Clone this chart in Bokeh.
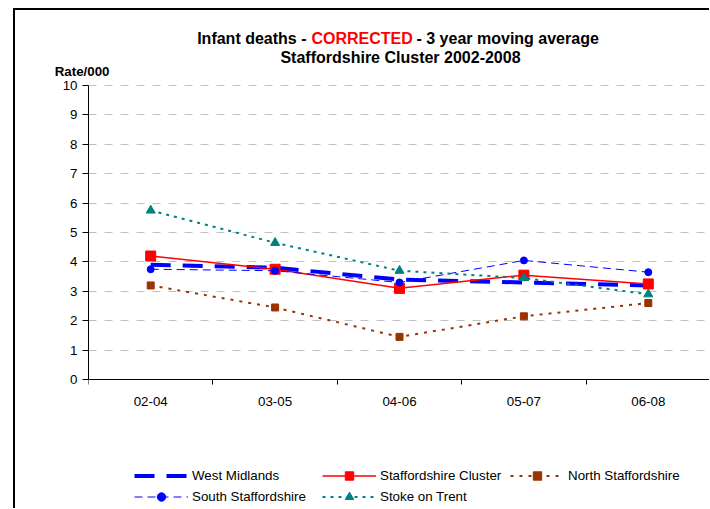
from bokeh.plotting import figure
from bokeh.models import (Range1d, FixedTicker, Label, Legend, LegendItem,
                          LinearAxis, CustomJSTickFormatter)
from bokeh.embed import file_html
from bokeh.resources import INLINE

# ---- data ----
categories = ["02-04", "03-05", "04-06", "05-07", "06-08"]
west_midlands = [3.9, 3.8, 3.4, 3.3, 3.2]
staffs_cluster = [4.2, 3.75, 3.1, 3.55, 3.25]
north_staffs = [3.2, 2.45, 1.45, 2.15, 2.6]
south_staffs = [3.75, 3.7, 3.3, 4.05, 3.65]
stoke_on_trent = [5.75, 4.65, 3.7, 3.45, 2.9]
y_ticks = list(range(0, 11))
series_names = ["West Midlands", "Staffordshire Cluster", "North Staffordshire",
                "South Staffordshire", "Stoke on Trent"]
y_title = "Rate/000"
title_parts = ["Infant deaths -", "CORRECTED", "-  3 year moving average"]
subtitle = "Staffordshire Cluster 2002-2008"

FONT = "Liberation Sans"
FS = "13.33px"
TFS = "16px"
xs = list(range(len(categories)))

# ---- layout constants (pixels, page coordinates) ----
CAN_X, CAN_Y = 15, 10          # canvas origin on the page
W = 694
FRAME_L = 88                   # page x of the value axis
FRAME_TOP = CAN_Y
FRAME_BOTTOM = 508             # frame reaches the bottom of the window
AXIS_Y0 = 379                  # page y of value 0
PX_PER_UNIT = 29.4             # pixels per 1.0 on value axis
CAT_W = 124.4                  # pixels per category
B_LEFT = FRAME_L - CAN_X
FRAME_W = W - B_LEFT
FRAME_H = FRAME_BOTTOM - FRAME_TOP

p = figure(frame_width=FRAME_W, frame_height=FRAME_H,
           min_border_left=B_LEFT, min_border_right=0, min_border_top=0,
           min_border_bottom=0,
           x_range=Range1d(-0.5, -0.5 + FRAME_W / CAT_W),
           y_range=Range1d(-(FRAME_BOTTOM - AXIS_Y0) / PX_PER_UNIT,
                           (AXIS_Y0 - FRAME_TOP) / PX_PER_UNIT),
           output_backend="svg", toolbar_location=None, tools="")
p.styles = {"margin-left": "13px", "margin-top": "8px",
            "border-left": "2px solid #000", "border-top": "2px solid #000"}
p.outline_line_color = None
p.background_fill_color = "white"
p.border_fill_color = "white"

# x axis (categories), drawn at value 0
xa = p.xaxis[0]
xa.fixed_location = 0
xa.ticker = FixedTicker(ticks=xs, minor_ticks=[i - 0.5 for i in range(len(categories) + 1)])
xa.major_label_overrides = {i: c for i, c in enumerate(categories)}
xa.major_tick_out = 0
xa.major_tick_in = 0
xa.minor_tick_out = 5
xa.minor_tick_in = 0
xa.axis_line_color = "black"
xa.minor_tick_line_color = "black"
xa.major_label_text_font = FONT
xa.major_label_text_font_size = FS
xa.major_label_text_color = "black"
xa.major_label_standoff = 12

# y axis (values)
ya = p.yaxis[0]
ya.ticker = FixedTicker(ticks=y_ticks)
ya.bounds = (y_ticks[0], y_ticks[-1])
ya.major_tick_out = 6
ya.major_tick_in = 0
ya.minor_tick_out = 0
ya.minor_tick_in = 0
ya.axis_line_color = "black"
ya.major_tick_line_color = "black"
ya.major_label_text_font = FONT
ya.major_label_text_font_size = FS
ya.major_label_text_color = "black"
ya.major_label_standoff = 5

# axis title "Rate/000" drawn as the single label of an extra, line-less left axis
rate_axis = LinearAxis(ticker=FixedTicker(ticks=[(AXIS_Y0 - 71) / PX_PER_UNIT]),
                       formatter=CustomJSTickFormatter(args=dict(t=y_title), code="return t"),
                       axis_line_color=None, major_tick_line_color=None,
                       minor_tick_line_color=None, major_tick_out=0, major_tick_in=0,
                       major_label_standoff=-50, major_label_text_font=FONT,
                       major_label_text_font_size=FS, major_label_text_font_style="bold",
                       major_label_text_color="black")
p.add_layout(rate_axis, "left")

p.xgrid.visible = False
p.ygrid.ticker = FixedTicker(ticks=y_ticks[1:])
p.ygrid.grid_line_color = "#c0c0c0"
p.ygrid.grid_line_dash = "8 8"
p.ygrid.grid_line_width = 1

# series
r_wm = p.line(xs, west_midlands, line_color="#0000FF", line_width=4, line_dash="20 12")
r_sc = p.line(xs, staffs_cluster, line_color="#FF0000", line_width=1.5)
m_sc = p.scatter(xs, staffs_cluster, marker="square", size=10, fill_color="#FF0000", line_color="#FF0000")
r_ns = p.line(xs, north_staffs, line_color="#993300", line_width=2, line_dash="3 6")
m_ns = p.scatter(xs, north_staffs, marker="square", size=7, fill_color="#993300", line_color="#993300")
r_ss = p.line(xs, south_staffs, line_color="#0000FF", line_width=1, line_dash="8 5")
m_ss = p.scatter(xs, south_staffs, marker="circle", size=7, fill_color="#0000FF", line_color="#0000FF")
r_st = p.line(xs, stoke_on_trent, line_color="#008080", line_width=2, line_dash="3 5")
m_st = p.scatter(xs, stoke_on_trent, marker="triangle", size=9, fill_color="#008080", line_color="#008080")

# legend inside the (extended) frame, below the category axis
LEG_X, LEG_BOTTOM = 134, 506.5
legend = Legend(items=[
    LegendItem(label=series_names[0], renderers=[r_wm]),
    LegendItem(label=series_names[1], renderers=[r_sc, m_sc]),
    LegendItem(label=series_names[2], renderers=[r_ns, m_ns]),
    LegendItem(label=series_names[3], renderers=[r_ss, m_ss]),
    LegendItem(label=series_names[4], renderers=[r_st, m_st]),
], location=(LEG_X - FRAME_L, FRAME_BOTTOM - LEG_BOTTOM), orientation="horizontal", ncols=3,
    glyph_width=54, glyph_height=21, label_height=21, label_width=130,
    label_standoff=4, spacing=0, padding=0, margin=0,
    border_line_color=None, background_fill_alpha=0,
    label_text_font=FONT, label_text_font_size=FS, label_text_color="black")
p.add_layout(legend)

# chart titles (screen units relative to the plot frame: origin at its bottom-left)
def add_text(txt, px, py, align, color="black"):
    p.add_layout(Label(x=px - FRAME_L, y=FRAME_BOTTOM - py, x_units="screen", y_units="screen",
                       text=txt, text_align=align, text_baseline="middle", text_font=FONT,
                       text_font_size=TFS, text_font_style="bold", text_color=color))

add_text(title_parts[0], 306, 38, "right")
add_text(title_parts[1], 311, 38, "left", color="#FF0000")
add_text(title_parts[2], 416, 38, "left")
add_text(subtitle, 400, 57, "center")

open("out.html", "w").write(file_html(p, INLINE))
